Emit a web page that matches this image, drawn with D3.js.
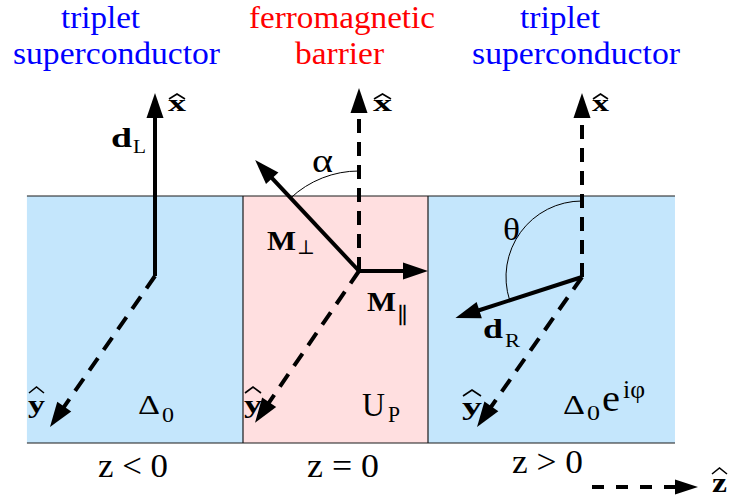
<!DOCTYPE html>
<html><head><meta charset="utf-8">
<script src="https://cdn.jsdelivr.net/npm/d3@7"></script>
<style>html,body{margin:0;padding:0;background:#fff;}svg{display:block;}
text{font-family:"Liberation Serif","Times New Roman","DejaVu Serif",serif;}</style>
</head><body>
<svg id="c" width="729" height="502"></svg>
<script>
// ---- data ----
const regionNames = ["z < 0", "z = 0", "z > 0"];
const regionKinds = ["sc", "fm", "sc"];
const regionEdges = [-1.168, 0, 1, 2.335];       // in barrier widths
const titleLines = [["triplet", "superconductor"], ["ferromagnetic", "barrier"], ["triplet", "superconductor"]];
const gapLabels = [["Δ", "0", ""], ["U", "P", ""], ["Δ", "0", "e", "iφ"]];
// vectors per frame: [name, screen angle (deg), length, style]
const frameVectors = {
  L: [["dL", 90, 183, "solid"], ["y", -124.8, 184, "dash"]],
  M: [["x", 90, 183, "dash"], ["y", -124.4, 184, "dash"], ["Mperp", 133.1, 152, "solid"], ["Mpar", 0, 69, "solid"]],
  R: [["x", 90, 184, "dash"], ["y", -125.0, 183, "dash"], ["dR", -162.1, 133, "solid"]]
};
const angleAlpha = 43.1, angleTheta = 107.9;

// ---- layout ----
const svg = d3.select("#c");
const zScale = d3.scaleLinear().domain([0, 1]).range([243, 428]);
const yTop = 196, yBot = 443;
const blue = "#0000ff", red = "#ff0000";
const fills = {sc: "#c4e6fc", fm: "#ffdfe0"};
const origins = {L: [155, 276], M: [359, 271], R: [582, 277]};

regionKinds.forEach((k, i) => {
  svg.append("rect").attr("x", zScale(regionEdges[i])).attr("y", yTop)
    .attr("width", zScale(regionEdges[i + 1]) - zScale(regionEdges[i])).attr("height", yBot - yTop)
    .attr("fill", fills[k]);
});
const lineStyle = s => s.attr("stroke", "#1a1a1a").attr("stroke-width", 1.2);
lineStyle(svg.append("line").attr("x1", zScale(regionEdges[0])).attr("x2", zScale(regionEdges[3])).attr("y1", yTop).attr("y2", yTop));
lineStyle(svg.append("line").attr("x1", zScale(regionEdges[0])).attr("x2", zScale(regionEdges[3])).attr("y1", yBot).attr("y2", yBot));
[1, 2].forEach(i => lineStyle(svg.append("line").attr("x1", zScale(regionEdges[i])).attr("x2", zScale(regionEdges[i])).attr("y1", yTop).attr("y2", yBot)));

function arrow(x1, y1, x2, y2, opt) {
  opt = Object.assign({dash: null, hl: 25, hw: 17, w: 4}, opt || {});
  const dx = x2 - x1, dy = y2 - y1, L = Math.hypot(dx, dy), ux = dx / L, uy = dy / L;
  const bx = x2 - ux * opt.hl, by = y2 - uy * opt.hl;
  const ln = svg.append("line").attr("x1", x1).attr("y1", y1).attr("x2", bx + ux).attr("y2", by + uy)
    .attr("stroke", "#000").attr("stroke-width", opt.w);
  if (opt.dash) ln.attr("stroke-dasharray", opt.dash);
  const nx = -uy, ny = ux;
  svg.append("path").attr("d", `M${x2},${y2}L${bx + nx * opt.hw / 2},${by + ny * opt.hw / 2}L${bx - nx * opt.hw / 2},${by - ny * opt.hw / 2}Z`)
    .attr("fill", "#000");
}
const tipOf = (f, v) => {
  const [ox, oy] = origins[f], a = v[1] * Math.PI / 180;
  return [ox + Math.cos(a) * v[2], oy - Math.sin(a) * v[2]];
};

function arcAt(f, r, a0, a1) {
  const [ox, oy] = origins[f];
  const p = d3.path();
  p.arc(ox, oy, r, a0, a1, true);
  svg.append("path").attr("d", p.toString()).attr("fill", "none").attr("stroke", "#000").attr("stroke-width", 1);
}
arcAt("M", 100, -Math.PI / 2, -Math.PI / 2 - angleAlpha * Math.PI / 180);
arcAt("R", 76, -Math.PI / 2, -Math.PI / 2 - angleTheta * Math.PI / 180);

Object.keys(frameVectors).forEach(f => {
  frameVectors[f].forEach(v => {
    const [tx, ty] = tipOf(f, v);
    const dash = v[3] === "dash" ? (v[0] === "y" ? "15,10" : "14,9") : null;
    arrow(origins[f][0], origins[f][1], tx, ty, {dash});
  });
});
arrow(592, 487, 698, 487, {dash: "12,12", hl: 23, hw: 15});

function txt(t, x, y, s, w, o) {
  o = o || {};
  const e = svg.append("text").attr("x", x).attr("y", y).text(t)
    .style("font-size", s + "px")
    .attr("fill", o.c || "#000").style("font-weight", o.b ? "bold" : "normal");
  if (w) e.attr("textLength", w).attr("lengthAdjust", "spacingAndGlyphs");
  return e;
}
function hat(x0, x1, yb, h) {
  svg.append("path").attr("d", `M${x0},${yb}L${(x0 + x1) / 2},${yb - h}L${x1},${yb}`)
    .attr("fill", "none").attr("stroke", "#000").attr("stroke-width", 1.6);
}
const titlePos = [[[61, 28, 79], [13, 63.5, 207]], [[249, 28, 186], [295, 63.5, 89]], [[520, 28, 80], [472, 63.5, 208]]];
titleLines.forEach((lines, i) => lines.forEach((l, j) => {
  const [x, y, w] = titlePos[i][j];
  txt(l, x, y, 32, w, {c: regionKinds[i] === "sc" ? blue : red});
}));
const zPos = [[98, 477, 70], [307, 477, 72], [512, 473, 71]];
regionNames.forEach((n, i) => txt(n, zPos[i][0], zPos[i][1], 34, zPos[i][2]));
txt(gapLabels[0][0], 138, 414, 28, 22); txt(gapLabels[0][1], 162, 422, 21, 12);
txt(gapLabels[1][0], 362, 416, 34, 23); txt(gapLabels[1][1], 388, 422, 24, 12);
txt(gapLabels[2][0], 563, 414, 28, 22); txt(gapLabels[2][1], 587, 420, 21, 13);
txt(gapLabels[2][2], 602, 411, 37, 18); txt(gapLabels[2][3], 623, 398, 25, 22);
txt("d", 111, 147, 27, 21, {b: 1}); txt("L", 133, 153, 19, 13);
txt("M", 267, 250, 27, 29, {b: 1}); txt("⊥", 297, 254, 20, 18);
txt("M", 367, 311, 27, 29, {b: 1}); txt("∥", 397, 323, 22, 11);
txt("d", 483, 338, 27, 20, {b: 1}); txt("R", 505, 347, 19, 15);
txt("α", 312, 172, 33, 21);
txt("θ", 503, 240, 32, 17);
[[168, 18], [373, 19], [592, 17]].forEach(([x, w]) => { txt("x", x, 111, 24, w, {b: 1}); hat(x + 1, x + w - 1, 99, 5); });
[[28, 17, 413, 393], [244, 18, 413, 393], [462, 20, 415, 396]].forEach(([x, w, y, hy]) => { txt("y", x, y, 26, w, {b: 1}); hat(x + 1, x + w - 1, hy, 6); });
txt("z", 712, 492, 28, 15, {b: 1}); hat(712, 727, 474, 6);
</script>
</body></html>
